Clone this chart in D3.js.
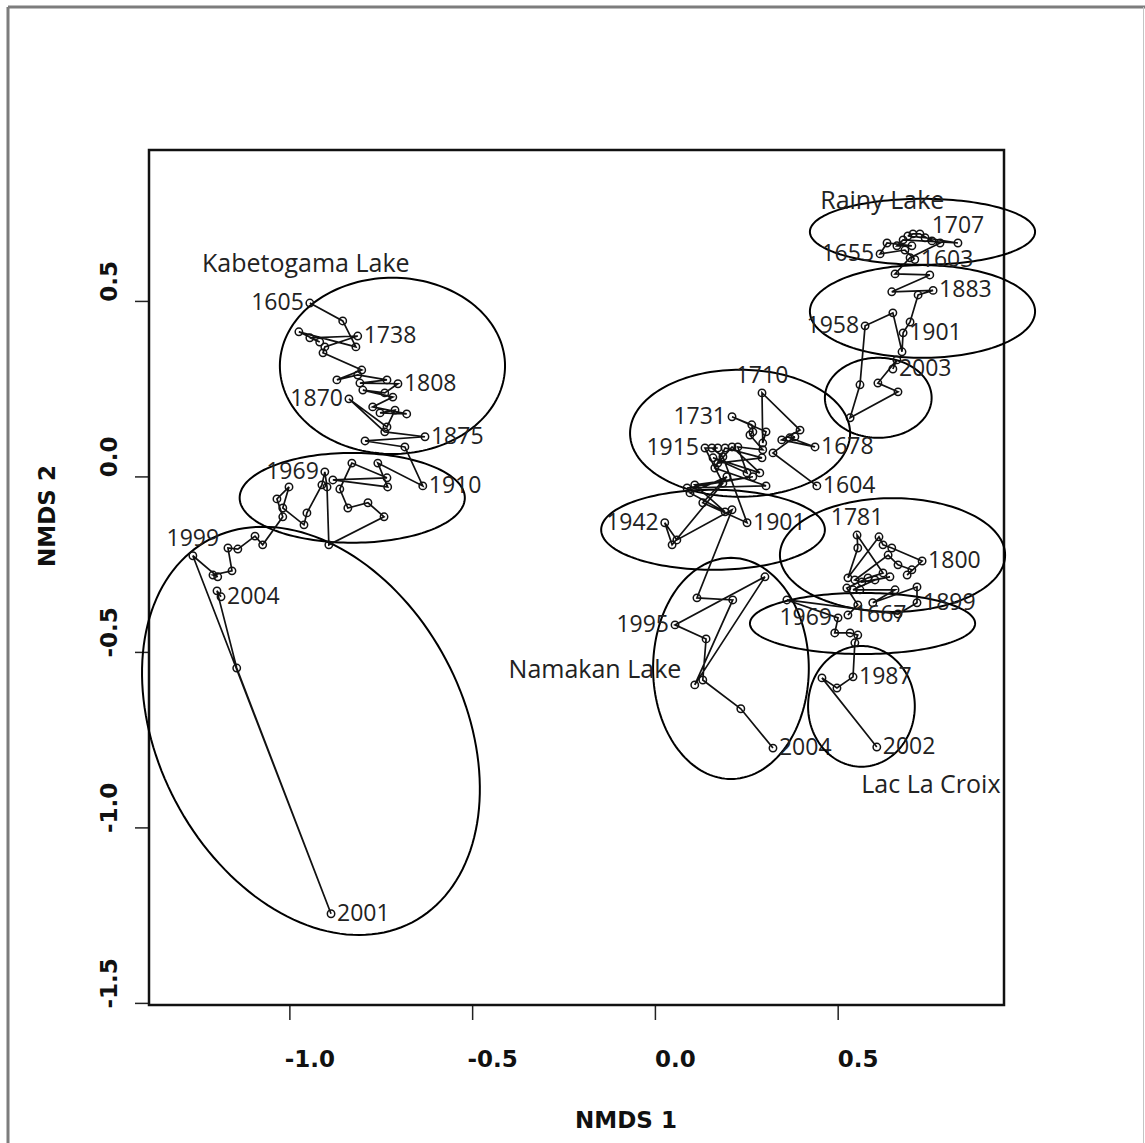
<!DOCTYPE html>
<html>
<head>
<meta charset="utf-8">
<script src="https://cdn.jsdelivr.net/npm/d3@7"></script>
<style>
body { margin: 0; background: #fff; }
#chart { width: 1145px; height: 1143px; }
</style>
</head>
<body>
<div id="chart"></div>
<script>
// NMDS scores, one pair of arrays per lake (core order)
var kabetogamaX = [-0.944,-0.854,-0.818,-0.974,-0.917,-0.944,-0.813,-0.903,-0.908,-0.802,
	-0.870,-0.813,-0.733,-0.807,-0.703,-0.739,-0.799,-0.717,-0.772,-0.679,
	-0.752,-0.711,-0.733,-0.837,-0.739,-0.629,-0.793,-0.684,-0.635,-0.758,
	-0.731,-0.881,-0.733,-0.829,-0.862,-0.840,-0.785,-0.741,-0.892,-0.897,
	-0.903,-0.911,-0.952,-0.960,-1.018,-1.001,-1.034,-1.018,-1.073,-1.094,
	-1.141,-1.168,-1.157,-1.209,-1.196,-1.264,-0.886,-1.144,-1.198,-1.187];
var kabetogamaY = [0.494,0.443,0.369,0.412,0.383,0.395,0.400,0.369,0.352,0.303,
	0.275,0.289,0.275,0.266,0.264,0.238,0.246,0.226,0.198,0.178,
	0.181,0.189,0.141,0.221,0.127,0.113,0.101,0.084,-0.027,0.038,
	-0.030,-0.010,-0.004,0.038,-0.036,-0.090,-0.075,-0.115,-0.195,-0.030,
	0.013,-0.024,-0.104,-0.138,-0.090,-0.030,-0.064,-0.115,-0.195,-0.170,
	-0.207,-0.204,-0.269,-0.281,-0.286,-0.226,-1.246,-0.546,-0.326,-0.343];
var kabetogamaYears = [[0,"1605"],[6,"1738"],[14,"1808"],[23,"1870"],[25,"1875"],
	[28,"1910"],[40,"1969"],[55,"1999"],[56,"2001"],[59,"2004"]];

var rainyX = [0.711,0.684,0.616,0.635,0.703,0.662,0.679,0.829,0.739,0.692,
	0.706,0.725,0.758,0.780,0.698,0.657,0.752,0.648,0.761,0.720,
	0.698,0.679,0.676,0.651,0.575,0.561,0.534,0.665,0.610,0.662,0.651];
var rainyY = [0.618,0.645,0.634,0.665,0.657,0.657,0.674,0.665,0.680,0.685,
	0.691,0.691,0.671,0.665,0.623,0.577,0.574,0.526,0.530,0.517,
	0.440,0.409,0.355,0.466,0.429,0.261,0.167,0.241,0.266,0.332,0.306];
var rainyYears = [[0,"1603"],[2,"1655"],[7,"1707"],[18,"1883"],[21,"1901"],[24,"1958"],[30,"2003"]];

var namakanX = [0.443,0.323,0.383,0.369,0.438,0.347,0.397,0.293,0.295,0.304,
	0.211,0.265,0.268,0.260,0.295,0.227,0.252,0.159,0.287,0.211,
	0.172,0.293,0.192,0.164,0.304,0.088,0.268,0.109,0.192,0.096,
	0.197,0.131,0.252,0.186,0.156,0.172,0.137,0.186,0.047,0.027,
	0.060,0.211,0.115,0.213,0.109,0.301,0.055,0.140,0.131,0.235,0.323];
var namakanY = [-0.027,0.067,0.113,0.110,0.084,0.104,0.132,0.238,0.095,0.127,
	0.170,0.147,0.127,0.118,0.076,0.084,0.010,0.053,0.010,0.084,
	0.038,0.053,0.081,0.024,-0.027,-0.033,-0.001,-0.024,-0.101,-0.047,
	-0.001,-0.075,-0.132,0.056,0.081,0.081,0.081,-0.019,-0.195,-0.132,
	-0.181,-0.095,-0.346,-0.352,-0.594,-0.286,-0.423,-0.463,-0.580,-0.662,-0.774];
var namakanYears = [[0,"1604"],[4,"1678"],[7,"1710"],[10,"1731"],[32,"1901"],
	[36,"1915"],[39,"1942"],[46,"1995"],[50,"2004"]];

var croixX = [0.528,0.555,0.525,0.583,0.624,0.553,0.555,0.528,0.613,0.624,
	0.648,0.731,0.690,0.703,0.665,0.638,0.547,0.566,0.643,0.602,
	0.542,0.561,0.657,0.596,0.717,0.717,0.665,0.361,0.501,0.492,
	0.534,0.555,0.547,0.542,0.498,0.457,0.607];
var croixY = [-0.395,-0.366,-0.318,-0.289,-0.275,-0.167,-0.204,-0.289,-0.172,-0.195,
	-0.204,-0.241,-0.281,-0.266,-0.252,-0.224,-0.295,-0.301,-0.286,-0.295,
	-0.323,-0.323,-0.323,-0.360,-0.315,-0.360,-0.392,-0.352,-0.403,-0.446,
	-0.446,-0.452,-0.474,-0.571,-0.603,-0.574,-0.771];
var croixYears = [[0,"1667"],[5,"1781"],[11,"1800"],[25,"1899"],[28,"1969"],[33,"1987"],[36,"2002"]];

// zone ellipses: centre x, centre y, semi-axis 1, semi-axis 2, rotation (deg)
var kabetogamaEllipses = [[-0.718,0.315,0.308,0.251,0],[-0.828,-0.061,0.308,0.128,0],[-0.941,-0.725,0.612,0.421,-64.6]];
var rainyEllipses = [[0.732,0.697,0.308,0.094,0],[0.732,0.470,0.308,0.132,0],[0.611,0.224,0.146,0.114,0]];
var namakanEllipses = [[0.233,0.123,0.301,0.181,0],[0.159,-0.152,0.306,0.114,0],[0.208,-0.547,0.213,0.315,0]];
var croixEllipses = [[0.650,-0.224,0.308,0.162,0],[0.568,-0.419,0.308,0.087,0],[0.565,-0.655,0.146,0.172,0]];

var lakeNames = ["Kabetogama Lake", "Rainy Lake", "Namakan Lake", "Lac La Croix"];
var lakeNameX = [-0.955, 0.622, -0.164, 0.755];
var lakeNameY = [0.605, 0.785, -0.551, -0.879];

var xLimits = [-1.384, 0.955];
var yLimits = [-1.506, 0.930];
var xTicks = [-1.0, -0.5, 0.0, 0.5];
var yTicks = [-1.5, -1.0, -0.5, 0.0, 0.5];

// which side of the point each year label sits on
var labelSide = {
	"1605":"left","1738":"right","1808":"right","1870":"left","1875":"right","1910":"right",
	"1969":"left","1999":"above","2001":"right","2004":"right"
};
var rainySide = {"1603":"right","1655":"left","1707":"above","1883":"right","1901":"right","1958":"left","2003":"right"};
var namakanSide = {"1604":"right","1678":"right","1710":"above","1731":"left","1901":"right",
	"1915":"left","1942":"left","1995":"left","2004":"right"};
var croixSide = {"1667":"right","1781":"above","1800":"right","1899":"right","1969":"left","1987":"right","2002":"right"};

var width = 1145;
var height = 1143;
var box = {left: 149, right: 1004, top: 150, bottom: 1005};

var svg = d3.select("#chart")
	.append("svg")
	.attr("width", width)
	.attr("height", height);

// outer frame of the figure
svg.append("line").attr("x1", 8).attr("y1", 7).attr("x2", width).attr("y2", 7)
	.attr("stroke", "#7d7d7d").attr("stroke-width", 3);
svg.append("line").attr("x1", 8).attr("y1", 7).attr("x2", 8).attr("y2", height)
	.attr("stroke", "#7d7d7d").attr("stroke-width", 3);
svg.append("line").attr("x1", 1143.5).attr("y1", 7).attr("x2", 1143.5).attr("y2", height)
	.attr("stroke", "#c4c4c4").attr("stroke-width", 1);

var x = d3.scaleLinear().domain(xLimits).range([box.left, box.right]);
var y = d3.scaleLinear().domain(yLimits).range([box.bottom, box.top]);

// axes
var xAxis = d3.axisBottom(x).tickValues(xTicks).tickSize(15)
	.tickFormat(function(d) { return d.toFixed(1); });
var gx = svg.append("g")
	.attr("transform", "translate(0," + box.bottom + ")")
	.call(xAxis);
gx.select(".domain").remove();
gx.selectAll("line").attr("stroke", "#222").attr("stroke-width", 1.5);
gx.selectAll("text")
	.attr("y", 62).attr("dy", null).attr("dx", 20)
	.attr("fill", "#111")
	.style("font-family", "'DejaVu Sans', sans-serif")
	.style("font-weight", "bold")
	.style("font-size", "23px");

var yAxis = d3.axisLeft(y).tickValues(yTicks).tickSize(14)
	.tickFormat(function(d) { return d.toFixed(1); });
var gy = svg.append("g")
	.attr("transform", "translate(" + box.left + ",0)")
	.call(yAxis);
gy.select(".domain").remove();
gy.selectAll("line").attr("stroke", "#222").attr("stroke-width", 1.5);
gy.selectAll("text")
	.attr("transform", "rotate(-90)")
	.attr("x", 20).attr("y", -32).attr("dy", null).attr("dx", null)
	.attr("text-anchor", "middle")
	.attr("fill", "#111")
	.style("font-family", "'DejaVu Sans', sans-serif")
	.style("font-weight", "bold")
	.style("font-size", "23px");

svg.append("text")
	.attr("x", 626).attr("y", 1128)
	.attr("text-anchor", "middle")
	.style("font-family", "'DejaVu Sans', sans-serif")
	.style("font-weight", "bold")
	.style("font-size", "23px")
	.attr("fill", "#111")
	.text("NMDS 1");
svg.append("text")
	.attr("transform", "translate(55,516) rotate(-90)")
	.attr("text-anchor", "middle")
	.style("font-family", "'DejaVu Sans', sans-serif")
	.style("font-weight", "bold")
	.style("font-size", "23px")
	.attr("fill", "#111")
	.text("NMDS 2");

// plot box
svg.append("rect")
	.attr("x", box.left).attr("y", box.top)
	.attr("width", box.right - box.left).attr("height", box.bottom - box.top)
	.attr("fill", "none").attr("stroke", "#111").attr("stroke-width", 2.5);

var lakes = [
	{xs: kabetogamaX, ys: kabetogamaY, years: kabetogamaYears, ellipses: kabetogamaEllipses, side: labelSide},
	{xs: rainyX, ys: rainyY, years: rainyYears, ellipses: rainyEllipses, side: rainySide},
	{xs: namakanX, ys: namakanY, years: namakanYears, ellipses: namakanEllipses, side: namakanSide},
	{xs: croixX, ys: croixY, years: croixYears, ellipses: croixEllipses, side: croixSide}
];

var line = d3.line()
	.x(function(d) { return x(d[0]); })
	.y(function(d) { return y(d[1]); });

var ellipseLine = d3.line()
	.x(function(d) { return x(d[0]); })
	.y(function(d) { return y(d[1]); })
	.curve(d3.curveLinearClosed);

function ellipsePoints(e) {
	var a = e[4] * Math.PI / 180;
	return d3.range(0, 160).map(function(i) {
		var t = i / 160 * 2 * Math.PI;
		return [
			e[0] + e[2] * Math.cos(t) * Math.cos(a) - e[3] * Math.sin(t) * Math.sin(a),
			e[1] + e[2] * Math.cos(t) * Math.sin(a) + e[3] * Math.sin(t) * Math.cos(a)
		];
	});
}

lakes.forEach(function(lake) {
	var pts = lake.xs.map(function(v, i) { return [v, lake.ys[i]]; });

	svg.append("g").selectAll("path")
		.data(lake.ellipses)
		.enter()
		.append("path")
		.attr("d", function(e) { return ellipseLine(ellipsePoints(e)); })
		.attr("fill", "none")
		.attr("stroke", "#000")
		.attr("stroke-width", 2);

	svg.append("path")
		.datum(pts)
		.attr("d", line)
		.attr("fill", "none")
		.attr("stroke", "#111")
		.attr("stroke-width", 1.7);

	svg.append("g").selectAll("circle")
		.data(pts)
		.enter()
		.append("circle")
		.attr("cx", function(d) { return x(d[0]); })
		.attr("cy", function(d) { return y(d[1]); })
		.attr("r", 3.7)
		.attr("fill", "none")
		.attr("stroke", "#111")
		.attr("stroke-width", 1.5);

	svg.append("g").selectAll("text")
		.data(lake.years)
		.enter()
		.append("text")
		.attr("x", function(d) {
			var px = x(pts[d[0]][0]);
			var s = lake.side[d[1]];
			if (s == "left") return px - 6;
			if (s == "right") return px + 6;
			return px;
		})
		.attr("y", function(d) {
			var py = y(pts[d[0]][1]);
			if (lake.side[d[1]] == "above") return py - 10;
			return py + 7;
		})
		.attr("text-anchor", function(d) {
			var s = lake.side[d[1]];
			if (s == "left") return "end";
			if (s == "right") return "start";
			return "middle";
		})
		.attr("fill", "#222")
		.style("font-family", "'Open Sans', sans-serif")
		.style("font-size", "23px")
		.text(function(d) { return d[1]; });
});

svg.append("g").selectAll("text")
	.data(lakeNames)
	.enter()
	.append("text")
	.attr("x", function(d, i) { return x(lakeNameX[i]); })
	.attr("y", function(d, i) { return y(lakeNameY[i]) + 8; })
	.attr("text-anchor", "middle")
	.attr("fill", "#222")
	.style("font-family", "'Open Sans', sans-serif")
	.style("font-size", "25px")
	.text(function(d) { return d; });
</script>
</body>
</html>
